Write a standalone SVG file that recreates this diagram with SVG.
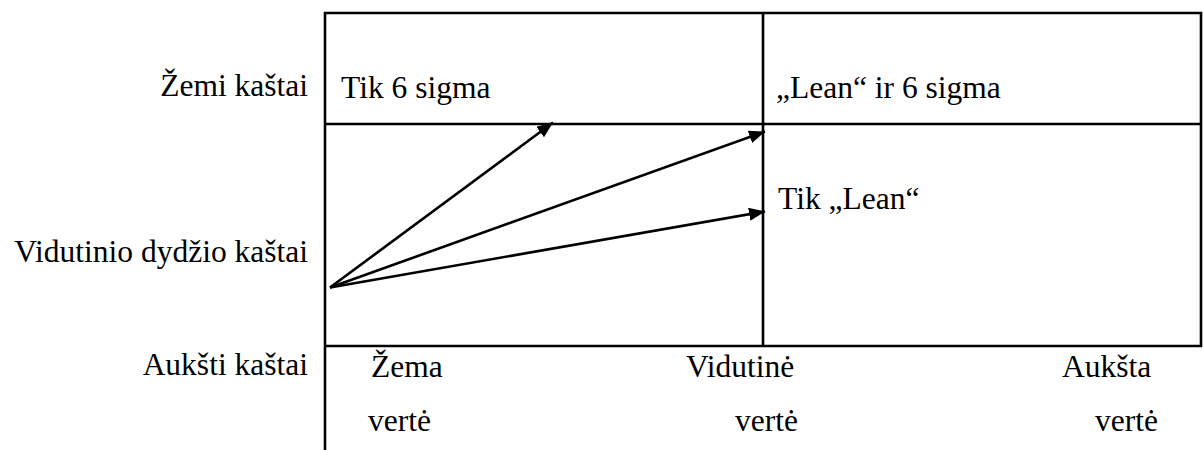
<svg xmlns="http://www.w3.org/2000/svg" width="1203" height="450" viewBox="0 0 1203 450">
  <style>
    text { font-family: "Liberation Serif", Tinos, "Times New Roman", "DejaVu Serif", serif; font-size: 31.5px; fill: #000; }
    .end { text-anchor: end; }
    .grid { stroke: #000; stroke-width: 2.6; fill: none; }
    .arrow { stroke: #000; stroke-width: 2.6; fill: none; marker-end: url(#head); }
  </style>
  <defs>
    <marker id="head" markerUnits="userSpaceOnUse" markerWidth="17" markerHeight="13" refX="16" refY="6.5" orient="auto">
      <path d="M0,0 L16,6.5 L0,13 Z" fill="#000"/>
    </marker>
  </defs>
  <rect width="1203" height="450" fill="#fff"/>

  <g id="grid">
    <line class="grid" x1="325" y1="12" x2="325" y2="450"/>
    <line class="grid" x1="324" y1="13" x2="1202" y2="13"/>
    <line class="grid" x1="1201" y1="12" x2="1201" y2="347"/>
    <line class="grid" x1="763" y1="13" x2="763" y2="346"/>
    <line class="grid" x1="325" y1="124" x2="1202" y2="124"/>
    <line class="grid" x1="325" y1="346" x2="1202" y2="346"/>
  </g>

  <g id="row-labels">
    <text class="end" x="308" y="96">Žemi kaštai</text>
    <text class="end" x="308" y="262">Vidutinio dydžio kaštai</text>
    <text class="end" x="308" y="375">Aukšti kaštai</text>
  </g>

  <g id="cell-tik-6-sigma">
    <text x="341" y="98">Tik 6 sigma</text>
  </g>
  <g id="cell-lean-6-sigma">
    <text x="776" y="98">„Lean“ ir 6 sigma</text>
  </g>
  <g id="cell-tik-lean">
    <text x="778" y="209">Tik „Lean“</text>
  </g>

  <g id="col-labels">
    <text x="371" y="377">Žema</text>
    <text x="368" y="431">vertė</text>
    <text x="686" y="377">Vidutinė</text>
    <text x="735" y="431">vertė</text>
    <text x="1062" y="377">Aukšta</text>
    <text x="1095" y="431">vertė</text>
  </g>

  <g id="connectors">
    <line class="arrow" x1="330" y1="287.5" x2="553" y2="122.5"/>
    <line class="arrow" x1="330" y1="287.5" x2="765" y2="131.5"/>
    <line class="arrow" x1="330" y1="287.5" x2="765" y2="211.5"/>
  </g>
</svg>
